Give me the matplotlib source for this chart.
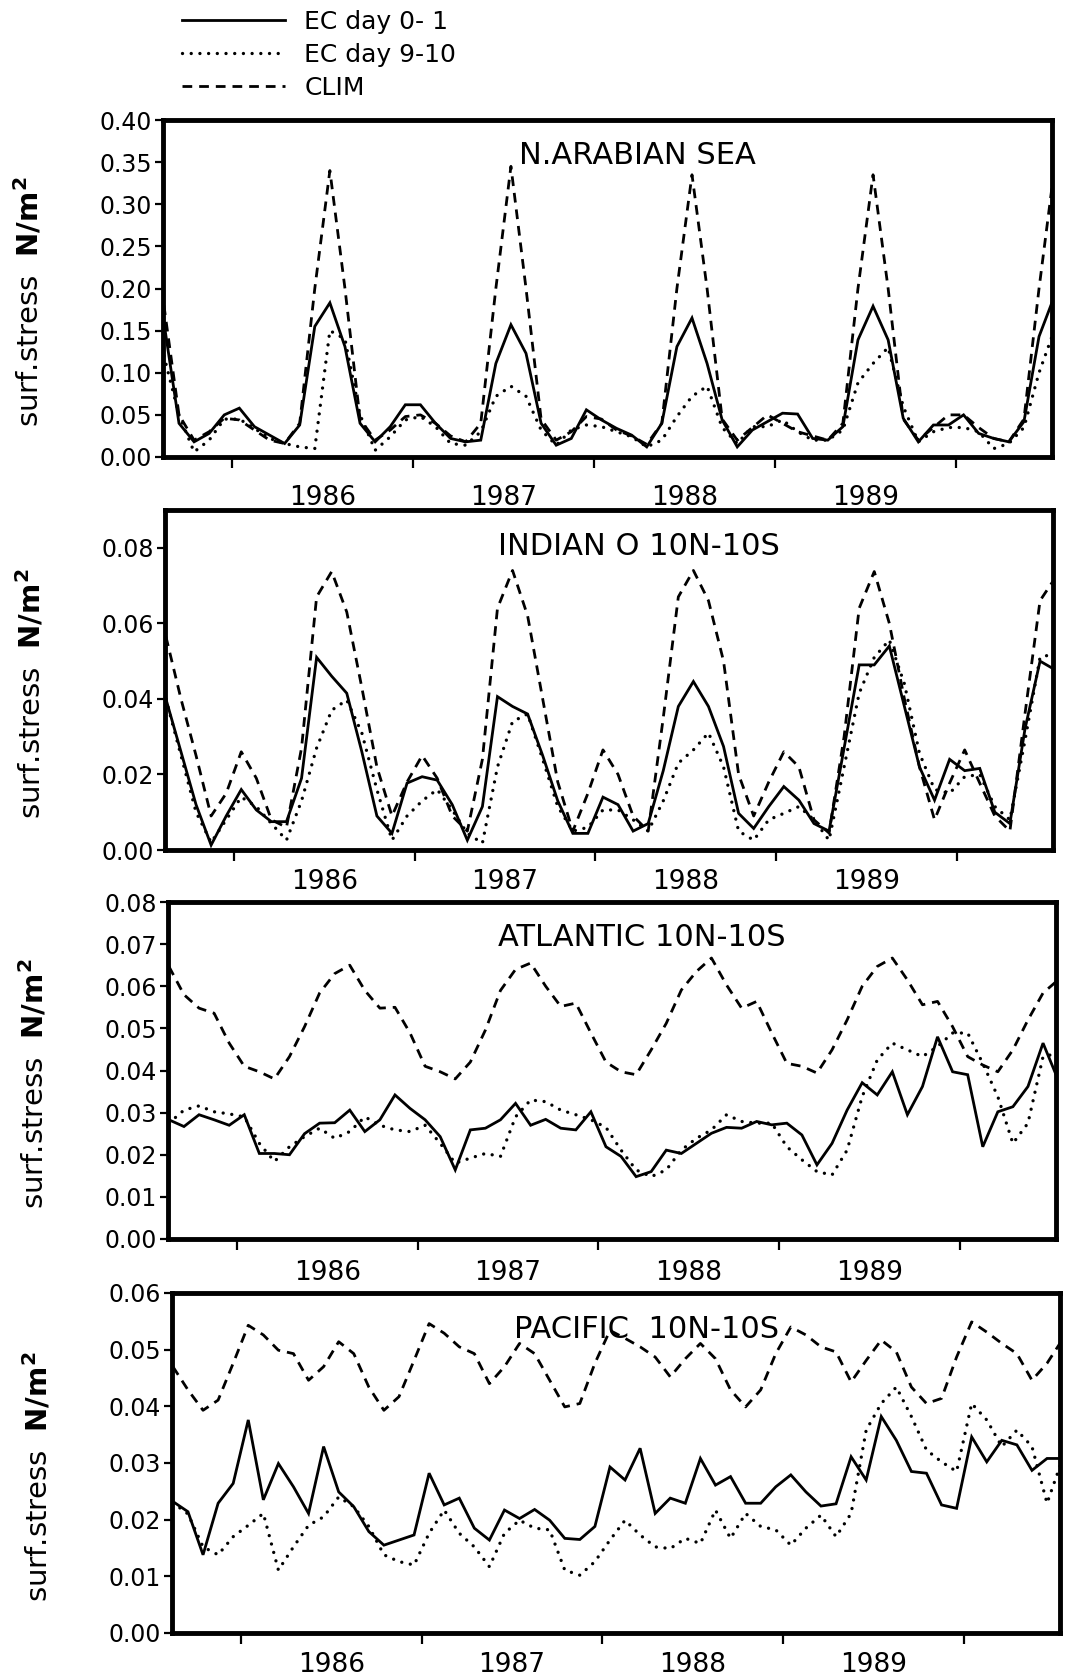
import matplotlib
matplotlib.use("Agg")
import matplotlib.pyplot as plt
import numpy as np
from matplotlib.lines import Line2D
from matplotlib.ticker import FormatStrFormatter

plt.rcParams["font.family"] = ["DejaVu Sans"]

# monthly means, Aug 1985 .. Jul 1990 (centre of each month)
months = 1985 + (np.arange(7, 67) + 0.5) / 12
years = [1986, 1987, 1988, 1989]
year_ticks = [1986, 1987, 1988, 1989, 1990]

# --- N. Arabian Sea ---
arabian_ec01 = [0.160, 0.040, 0.018, 0.028, 0.050, 0.058, 0.036, 0.026, 0.016, 0.038,
                0.155, 0.183, 0.131, 0.040, 0.018, 0.036, 0.062, 0.062, 0.040, 0.022,
                0.018, 0.020, 0.111, 0.157, 0.123, 0.040, 0.014, 0.022, 0.056, 0.044,
                0.034, 0.026, 0.012, 0.040, 0.131, 0.165, 0.111, 0.044, 0.012, 0.032,
                0.042, 0.052, 0.051, 0.022, 0.020, 0.036, 0.139, 0.179, 0.139, 0.046,
                0.018, 0.038, 0.038, 0.050, 0.028, 0.022, 0.018, 0.042, 0.143, 0.190]
arabian_ec910 = [0.120, 0.050, 0.006, 0.020, 0.045, 0.045, 0.034, 0.022, 0.016, 0.012,
                 0.010, 0.150, 0.140, 0.050, 0.008, 0.024, 0.044, 0.048, 0.036, 0.016,
                 0.014, 0.030, 0.072, 0.084, 0.072, 0.032, 0.014, 0.032, 0.038, 0.036,
                 0.030, 0.024, 0.012, 0.020, 0.048, 0.072, 0.084, 0.035, 0.016, 0.036,
                 0.036, 0.044, 0.030, 0.020, 0.020, 0.032, 0.088, 0.111, 0.130, 0.060,
                 0.018, 0.030, 0.035, 0.035, 0.030, 0.010, 0.016, 0.035, 0.100, 0.150]
arabian_clim = [0.180, 0.050, 0.020, 0.030, 0.046, 0.044, 0.032, 0.020, 0.016, 0.040,
                0.200, 0.340, 0.200, 0.045, 0.020, 0.032, 0.048, 0.050, 0.040, 0.025,
                0.018, 0.040, 0.200, 0.345, 0.200, 0.045, 0.020, 0.030, 0.048, 0.045,
                0.032, 0.025, 0.015, 0.040, 0.200, 0.335, 0.200, 0.045, 0.020, 0.035,
                0.050, 0.040, 0.030, 0.025, 0.020, 0.040, 0.200, 0.335, 0.200, 0.045,
                0.020, 0.035, 0.050, 0.050, 0.035, 0.022, 0.018, 0.045, 0.200, 0.340]

# --- Indian Ocean 10N-10S ---
indian_ec01 = [0.0400, 0.0260, 0.0120, 0.0013, 0.0090, 0.0160, 0.0106, 0.0075, 0.0075, 0.0190,
               0.0510, 0.0460, 0.0415, 0.0260, 0.0090, 0.0044, 0.0177, 0.0194, 0.0185, 0.0120,
               0.0026, 0.0115, 0.0406, 0.0380, 0.0360, 0.0250, 0.0130, 0.0044, 0.0044, 0.0140,
               0.0120, 0.0050, 0.0070, 0.0210, 0.0380, 0.0446, 0.0380, 0.0274, 0.0097, 0.0057,
               0.0115, 0.0168, 0.0132, 0.0070, 0.0050, 0.0270, 0.0490, 0.0490, 0.0540, 0.0380,
               0.0220, 0.0132, 0.0240, 0.0210, 0.0216, 0.0100, 0.0070, 0.0320, 0.0500, 0.0477]
indian_ec910 = [0.0400, 0.0250, 0.0100, 0.0020, 0.0080, 0.0140, 0.0115, 0.0070, 0.0026, 0.0130,
                0.0270, 0.0370, 0.0397, 0.0310, 0.0160, 0.0026, 0.0090, 0.0130, 0.0160, 0.0106,
                0.0044, 0.0018, 0.0220, 0.0340, 0.0360, 0.0240, 0.0115, 0.0050, 0.0060, 0.0106,
                0.0106, 0.0080, 0.0050, 0.0130, 0.0230, 0.0265, 0.0310, 0.0220, 0.0050, 0.0026,
                0.0080, 0.0097, 0.0115, 0.0080, 0.0026, 0.0220, 0.0415, 0.0510, 0.0556, 0.0440,
                0.0256, 0.0160, 0.0150, 0.0194, 0.0200, 0.0115, 0.0080, 0.0290, 0.0510, 0.0520]
indian_clim = [0.0565, 0.0400, 0.0250, 0.0090, 0.0150, 0.0260, 0.0190, 0.0080, 0.0060, 0.0270,
               0.0670, 0.0737, 0.0630, 0.0430, 0.0220, 0.0090, 0.0180, 0.0250, 0.0190, 0.0090,
               0.0050, 0.0240, 0.0640, 0.0740, 0.0620, 0.0400, 0.0180, 0.0050, 0.0150, 0.0265,
               0.0200, 0.0090, 0.0050, 0.0350, 0.0670, 0.0740, 0.0660, 0.0500, 0.0200, 0.0090,
               0.0180, 0.0260, 0.0220, 0.0080, 0.0045, 0.0300, 0.0640, 0.0737, 0.0600, 0.0400,
               0.0220, 0.0080, 0.0177, 0.0265, 0.0177, 0.0090, 0.0050, 0.0360, 0.0660, 0.0720]

# --- Atlantic 10N-10S ---
atlantic_ec01 = [0.0283, 0.0267, 0.0295, 0.0283, 0.0270, 0.0295, 0.0203, 0.0203, 0.0200, 0.0250,
                 0.0275, 0.0276, 0.0306, 0.0255, 0.0283, 0.0342, 0.0310, 0.0283, 0.0243, 0.0164,
                 0.0259, 0.0263, 0.0283, 0.0322, 0.0270, 0.0284, 0.0263, 0.0259, 0.0302, 0.0219,
                 0.0196, 0.0148, 0.0160, 0.0211, 0.0203, 0.0227, 0.0251, 0.0265, 0.0263, 0.0279,
                 0.0271, 0.0275, 0.0247, 0.0176, 0.0227, 0.0306, 0.0371, 0.0342, 0.0397, 0.0295,
                 0.0362, 0.0480, 0.0397, 0.0390, 0.0219, 0.0302, 0.0314, 0.0362, 0.0465, 0.0378]
atlantic_ec910 = [0.0275, 0.0306, 0.0316, 0.0302, 0.0297, 0.0290, 0.0227, 0.0184, 0.0219, 0.0243,
                  0.0263, 0.0239, 0.0255, 0.0290, 0.0270, 0.0259, 0.0255, 0.0270, 0.0227, 0.0180,
                  0.0192, 0.0203, 0.0196, 0.0290, 0.0330, 0.0326, 0.0306, 0.0295, 0.0283, 0.0265,
                  0.0211, 0.0164, 0.0148, 0.0164, 0.0211, 0.0239, 0.0259, 0.0295, 0.0279, 0.0275,
                  0.0275, 0.0219, 0.0188, 0.0160, 0.0152, 0.0211, 0.0338, 0.0425, 0.0465, 0.0449,
                  0.0433, 0.0457, 0.0489, 0.0489, 0.0417, 0.0338, 0.0227, 0.0275, 0.0433, 0.0441]
atlantic_clim = [0.0647, 0.0580, 0.0548, 0.0536, 0.0465, 0.0410, 0.0397, 0.0380, 0.0433, 0.0504,
                 0.0584, 0.0630, 0.0650, 0.0590, 0.0548, 0.0550, 0.0489, 0.0410, 0.0397, 0.0380,
                 0.0420, 0.0496, 0.0590, 0.0640, 0.0655, 0.0600, 0.0552, 0.0560, 0.0489, 0.0420,
                 0.0397, 0.0390, 0.0449, 0.0512, 0.0591, 0.0635, 0.0667, 0.0603, 0.0548, 0.0564,
                 0.0489, 0.0417, 0.0410, 0.0394, 0.0449, 0.0520, 0.0600, 0.0647, 0.0667, 0.0615,
                 0.0556, 0.0564, 0.0504, 0.0433, 0.0413, 0.0397, 0.0449, 0.0520, 0.0584, 0.0615]

# --- Pacific 10N-10S ---
pacific_ec01 = [0.0232, 0.0214, 0.0138, 0.0229, 0.0264, 0.0376, 0.0235, 0.0299, 0.0258, 0.0211,
                0.0329, 0.0249, 0.0223, 0.0179, 0.0155, 0.0164, 0.0173, 0.0282, 0.0226, 0.0238,
                0.0185, 0.0164, 0.0217, 0.0202, 0.0218, 0.0199, 0.0167, 0.0165, 0.0188, 0.0293,
                0.0270, 0.0326, 0.0211, 0.0238, 0.0229, 0.0308, 0.0261, 0.0276, 0.0229, 0.0229,
                0.0258, 0.0279, 0.0249, 0.0224, 0.0228, 0.0311, 0.0270, 0.0382, 0.0340, 0.0285,
                0.0282, 0.0226, 0.0220, 0.0346, 0.0302, 0.0340, 0.0332, 0.0287, 0.0308, 0.0308]
pacific_ec910 = [0.0230, 0.0210, 0.0152, 0.0138, 0.0170, 0.0190, 0.0211, 0.0111, 0.0152, 0.0190,
                 0.0205, 0.0240, 0.0223, 0.0188, 0.0138, 0.0126, 0.0120, 0.0176, 0.0217, 0.0176,
                 0.0152, 0.0117, 0.0176, 0.0199, 0.0185, 0.0182, 0.0111, 0.0102, 0.0126, 0.0164,
                 0.0199, 0.0173, 0.0152, 0.0149, 0.0167, 0.0158, 0.0217, 0.0167, 0.0211, 0.0188,
                 0.0182, 0.0155, 0.0185, 0.0208, 0.0170, 0.0211, 0.0358, 0.0405, 0.0434, 0.0382,
                 0.0323, 0.0302, 0.0285, 0.0405, 0.0376, 0.0329, 0.0358, 0.0329, 0.0229, 0.0305]
pacific_clim = [0.0470, 0.0429, 0.0393, 0.0411, 0.0476, 0.0543, 0.0526, 0.0499, 0.0493, 0.0446,
                0.0470, 0.0514, 0.0493, 0.0434, 0.0393, 0.0417, 0.0481, 0.0546, 0.0529, 0.0505,
                0.0493, 0.0440, 0.0470, 0.0511, 0.0493, 0.0446, 0.0399, 0.0405, 0.0476, 0.0534,
                0.0520, 0.0505, 0.0487, 0.0452, 0.0484, 0.0511, 0.0484, 0.0429, 0.0399, 0.0429,
                0.0493, 0.0540, 0.0526, 0.0505, 0.0496, 0.0443, 0.0481, 0.0517, 0.0496, 0.0434,
                0.0405, 0.0414, 0.0487, 0.0549, 0.0531, 0.0511, 0.0493, 0.0446, 0.0476, 0.0517]

panels = [
    # title, ec day 0-1, ec day 9-10, clim, y-top, tick step, last tick
    ("N.ARABIAN SEA", arabian_ec01, arabian_ec910, arabian_clim, 0.40, 0.05, 0.40),
    ("INDIAN O 10N-10S", indian_ec01, indian_ec910, indian_clim, 0.09, 0.02, 0.08),
    ("ATLANTIC 10N-10S", atlantic_ec01, atlantic_ec910, atlantic_clim, 0.08, 0.01, 0.08),
    ("PACIFIC  10N-10S", pacific_ec01, pacific_ec910, pacific_clim, 0.06, 0.01, 0.06),
]

# axes frames in pixels (left, right, top, bottom) of the 1065x1678 page,
# plus the gap (pt) between axis and year names
frames = [(163, 1052, 120, 457, 20),
          (165, 1053, 510, 850, 14),
          (168, 1056, 902, 1239, 15),
          (172, 1060, 1293, 1633, 14)]

W, H = 1065, 1678
solid_style = dict(color="black", lw=2.0, solid_joinstyle="miter")
dot_style = dict(color="black", lw=2.4, linestyle=(0, (0.01, 2.6)), dash_capstyle="round")
dash_style = dict(color="black", lw=2.0, linestyle=(0, (3.5, 2.5)))

fig = plt.figure(figsize=(W / 100, H / 100), dpi=100)

for (title, ec01, ec910, clim, ytop, ystep, ylast), (l, r, t, b, ypad) in zip(panels, frames):
    ax = fig.add_axes([l / W, 1 - b / H, (r - l) / W, (b - t) / H])

    ax.plot(months, clim, **dash_style)
    ax.plot(months, ec910, **dot_style)
    ax.plot(months, ec01, **solid_style)

    ax.set_xlim(1985.62, 1990.53)
    ax.set_ylim(0, ytop)

    # year boundaries as ticks, year names centred in between
    ax.set_xticks(year_ticks)
    ax.set_xticks([y + 0.5 for y in years], [str(y) for y in years], minor=True)
    ax.tick_params(axis="x", which="major", length=8, width=1.6, direction="out",
                   labelbottom=False)
    ax.tick_params(axis="x", which="minor", length=0, pad=ypad, labelsize=19)

    ax.set_yticks(np.arange(0, ylast + ystep / 2, ystep))
    ax.yaxis.set_major_formatter(FormatStrFormatter("%.2f"))
    ax.tick_params(axis="y", length=6, width=1.6, direction="out", labelsize=17, pad=2)

    for spine in ax.spines.values():
        spine.set_linewidth(3.5)

    ax.text(0.534, 1 - 36 / (b - t), title, transform=ax.transAxes,
            ha="center", va="center", fontsize=22)

    ax.set_ylabel("surf.stress  $\\mathbf{N/m^2}$", fontsize=21)
    ax.yaxis.set_label_coords(-0.133, 0.46)

handles = [Line2D([], [], **solid_style),
           Line2D([], [], **dot_style),
           Line2D([], [], **dash_style)]
fig.legend(handles, ["EC day 0- 1", "EC day 9-10", "CLIM"],
           loc="upper left", bbox_to_anchor=(182 / W, 1 - 10 / H),
           frameon=False, fontsize=18, handlelength=4.1, handletextpad=0.8,
           labelspacing=0.36, borderpad=0, borderaxespad=0)

fig.savefig("out.png", dpi=100)
